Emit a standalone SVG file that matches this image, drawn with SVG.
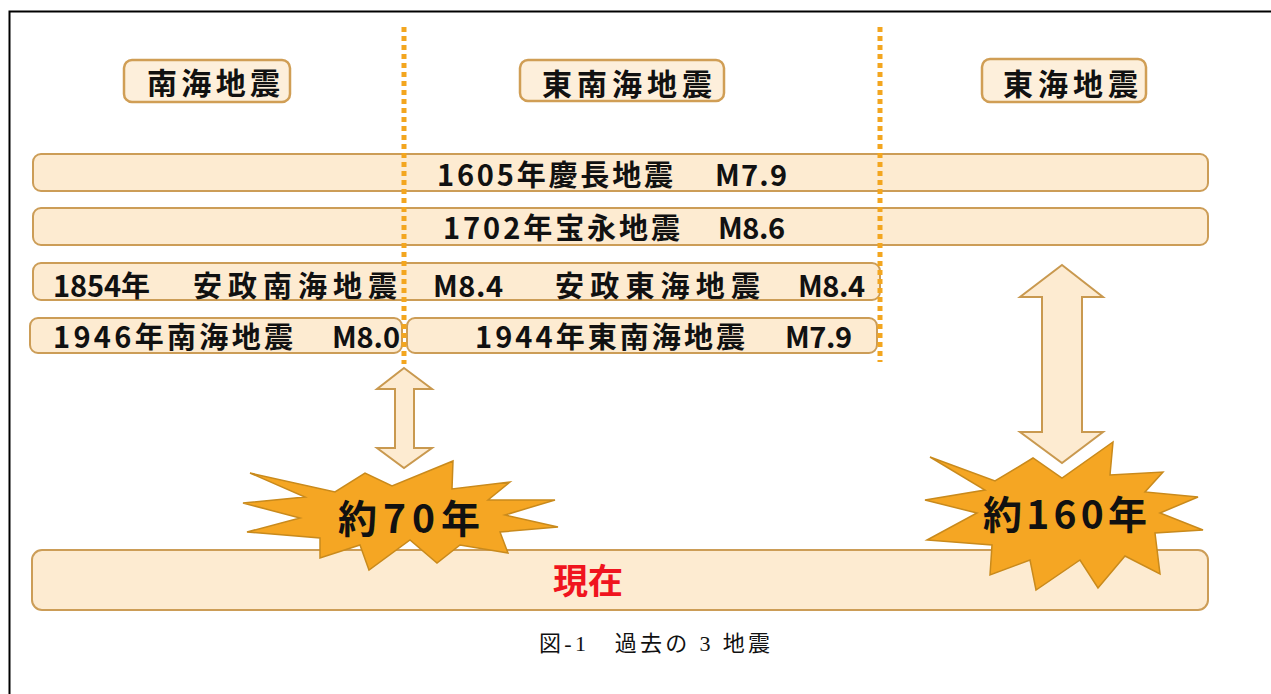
<svg xmlns="http://www.w3.org/2000/svg" width="1271" height="694" viewBox="0 0 1271 694">
<style>
.bar{fill:#FDEBD1;stroke:#CC9D57;stroke-width:2}
.hdr{fill:#FDEFDB;stroke:#D09E55;stroke-width:2.5}
.t{font-family:"Noto Sans CJK JP","Noto Sans",sans-serif;font-weight:bold;fill:#111}
.h{font-size:30px}
.r{font-size:29px}
.dot{stroke:#F3A61F;stroke-width:5;stroke-dasharray:5 4;fill:none}
.arr{fill:#FDEBD1;stroke:#C9994F;stroke-width:2}
.burst{fill:#F5A623;stroke:#C98A1C;stroke-width:1.5}
.big{font-size:39px}
.now{font-family:"Noto Sans CJK JP","Noto Sans",sans-serif;font-weight:bold;font-size:35px;fill:#F0141E}
.cap{font-family:"Liberation Serif","Noto Sans CJK JP",serif;font-size:22px;fill:#111}
</style>
<path d="M1271,11.5 H9.5 V694" fill="none" stroke="#000" stroke-width="2"/>

<g id="hdr-nankai"><rect class="hdr" x="124" y="60" width="166" height="42" rx="8"/><text class="t h" x="147" y="94" textLength="133">南海地震</text></g>
<g id="hdr-tonankai"><rect class="hdr" x="520" y="60" width="204" height="41" rx="8"/><text class="t h" x="542" y="95" textLength="170">東南海地震</text></g>
<g id="hdr-tokai"><rect class="hdr" x="982" y="59" width="164" height="43" rx="8"/><text class="t h" x="1003" y="95" textLength="135">東海地震</text></g>

<g id="row-1605"><rect class="bar" x="33" y="154" width="1175" height="37" rx="8"/>
<text class="t r" x="437" y="186" textLength="236">1605年慶長地震</text><text class="t r" x="715" y="186" textLength="72">M7.9</text></g>
<g id="row-1702"><rect class="bar" x="33" y="208" width="1175" height="37" rx="8"/>
<text class="t r" x="443" y="239" textLength="237">1702年宝永地震</text><text class="t r" x="718" y="239" textLength="67">M8.6</text></g>
<g id="row-1854"><rect class="bar" x="33" y="263" width="847" height="37" rx="8"/>
<text class="t r" x="53" y="297" textLength="97">1854年</text><text class="t r" x="193" y="297" textLength="204">安政南海地震</text>
<text class="t r" x="433" y="297" textLength="70">M8.4</text><text class="t r" x="555" y="297" textLength="205">安政東海地震</text>
<text class="t r" x="798" y="297" textLength="67">M8.4</text></g>
<g id="row-1946"><rect class="bar" x="30" y="318" width="372" height="35" rx="8"/>
<text class="t r" x="53" y="348" textLength="240">1946年南海地震</text><text class="t r" x="332" y="348" textLength="68">M8.0</text></g>
<g id="row-1944"><rect class="bar" x="407" y="318" width="470" height="35" rx="8"/>
<text class="t r" x="475" y="348" textLength="270">1944年東南海地震</text><text class="t r" x="785" y="348" textLength="67">M7.9</text></g>

<g id="dividers">
<line class="dot" x1="404" y1="27" x2="404" y2="364"/>
<line class="dot" x1="880" y1="27" x2="880" y2="362"/>
</g>

<g id="now-bar"><rect class="bar" x="32" y="550" width="1176" height="60" rx="10"/>
<text class="now" x="588" y="594" text-anchor="middle">現在</text></g>

<g id="connectors">
<polygon class="arr" points="404,368 432,389 414,389 414,448 432,448 404,468 377,448 395,448 395,389 377,389"/>
<polygon class="arr" points="1062,265 1103,297 1082,297 1082,432 1103,432 1062,463 1020,432 1042,432 1042,297 1020,297"/>
</g>

<g id="burst-70">
<polygon class="burst" points="250,473 335,492 365,473 392,486 453,461 452,489 510,482 488,500 555,500 505,515 558,527 500,532 508,553 460,545 437,563 410,540 369,570 360,545 320,558 320,538 247,532 300,518 243,503 305,497"/>
<text class="t big" x="338" y="533" textLength="142">約70年</text>
</g>
<g id="burst-160">
<polygon class="burst" points="930,457 995,481 1033,458 1062,478 1113,442 1110,475 1163,472 1145,492 1198,497 1160,513 1203,530 1155,533 1160,574 1125,556 1098,588 1080,560 1036,590 1030,560 990,575 992,545 927,540 977,513 925,500 985,490"/>
<text class="t big" x="983" y="529" textLength="164">約160年</text>
</g>

<text class="cap" x="539" y="651" textLength="231">図-1　過去の 3 地震</text>
</svg>
